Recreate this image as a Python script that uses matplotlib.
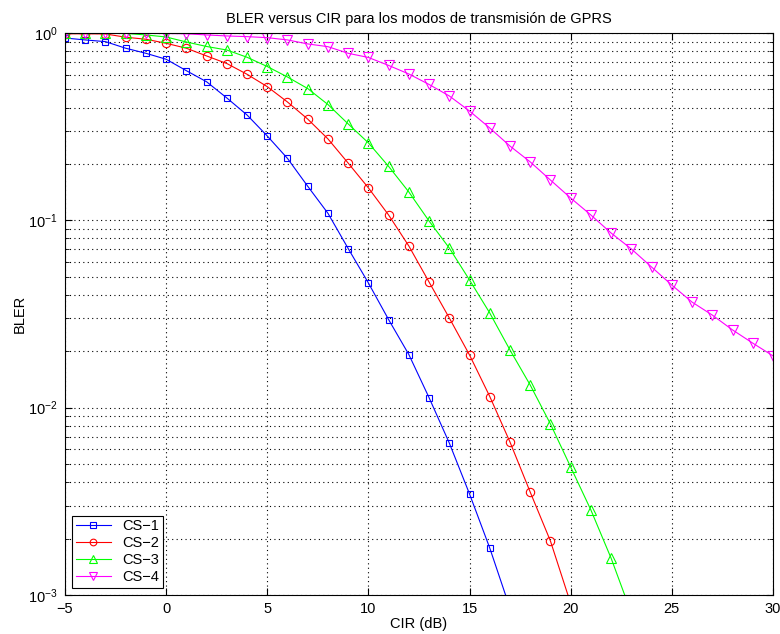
import numpy as np
import matplotlib
matplotlib.use('Agg')
import matplotlib.pyplot as plt
from matplotlib.ticker import LogLocator, NullFormatter, MultipleLocator

plt.rcParams['font.family'] = ['Liberation Sans', 'DejaVu Sans']

cir = np.arange(-5, 31)

# BLER values (values < 1e-3 fall outside the axes)
cs1 = [0.940, 0.918, 0.899, 0.829, 0.779, 0.724, 0.629, 0.549, 0.450, 0.365,
       0.282, 0.214, 0.152, 0.109, 0.0707, 0.0463, 0.0295, 0.0192, 0.0113, 0.00647,
       0.00346, 0.00178, 0.00085]
cs2 = [0.990, 0.990, 0.988, 0.949, 0.926, 0.881, 0.829, 0.754, 0.687, 0.602,
       0.517, 0.428, 0.347, 0.272, 0.202, 0.149, 0.1067, 0.0729, 0.0468, 0.0301,
       0.0191, 0.01147, 0.00655, 0.00354, 0.00194, 0.00090]
cs3 = [0.999, 0.998, 0.997, 0.995, 0.976, 0.952, 0.895, 0.847, 0.811, 0.742,
       0.662, 0.582, 0.505, 0.415, 0.327, 0.259, 0.194, 0.1416, 0.0991, 0.0711,
       0.048, 0.032, 0.0203, 0.0132, 0.00818, 0.00482, 0.00284, 0.00157, 0.00080]
cs4 = [0.999, 0.998, 0.997, 0.996, 0.995, 0.993, 0.990, 0.976, 0.964, 0.956,
       0.944, 0.918, 0.874, 0.845, 0.779, 0.740, 0.671, 0.604, 0.531, 0.461,
       0.383, 0.311, 0.249, 0.205, 0.164, 0.1315, 0.1067, 0.0855, 0.0703, 0.0563,
       0.0451, 0.0366, 0.0312, 0.0260, 0.0221, 0.0189]

series = [
    ("CS\u22121", cs1, 's', '#0000ff', 5),
    ("CS\u22122", cs2, 'o', '#ff0000', 6),
    ("CS\u22123", cs3, '^', '#00ff00', 6.5),
    ("CS\u22124", cs4, 'v', '#ff00ff', 6.5),
]

FS = 10.5

fig = plt.figure(figsize=(7.8, 6.34), dpi=100)
ax = fig.add_axes([0.0833, 0.0615, 0.9077, 0.8865])

for label, vals, mk, col, ms in series:
    ax.semilogy(cir[:len(vals)], vals, marker=mk, color=col, markersize=ms,
                markerfacecolor='none', markeredgewidth=0.8, linewidth=0.8, label=label)

ax.set_xlim(-5, 30)
ax.set_ylim(1e-3, 1)
ax.xaxis.set_major_locator(MultipleLocator(5))
ax.yaxis.set_major_locator(LogLocator(base=10, numticks=10))
ax.yaxis.set_minor_locator(LogLocator(base=10, subs=np.arange(2, 10), numticks=20))
ax.yaxis.set_minor_formatter(NullFormatter())
ax.grid(True, which='major', linestyle=(0, (1, 3)), color='k', linewidth=0.8)
ax.grid(True, which='minor', axis='y', linestyle=(0, (1, 3)), color='k', linewidth=0.8)
ax.tick_params(direction='in', which='both', top=True, right=True, labelsize=FS)
ax.tick_params(which='major', length=5, pad=5)
ax.tick_params(which='minor', length=3)
for s in ax.spines.values():
    s.set_linewidth(0.8)

ax.set_xlabel("CIR (dB)", fontsize=FS, labelpad=1)
ax.set_ylabel("BLER", fontsize=FS, labelpad=1)
ax.set_title("BLER versus CIR para los modos de transmisi\u00f3n de GPRS", fontsize=FS, pad=7)

leg = ax.legend(loc='lower left', fancybox=False, edgecolor='k', framealpha=1,
                fontsize=FS, handlelength=2.4, borderaxespad=0.5, labelspacing=0.2,
                borderpad=0.25, markerscale=0.8)
leg.get_frame().set_linewidth(0.8)

plt.savefig("out.png", dpi=100)
